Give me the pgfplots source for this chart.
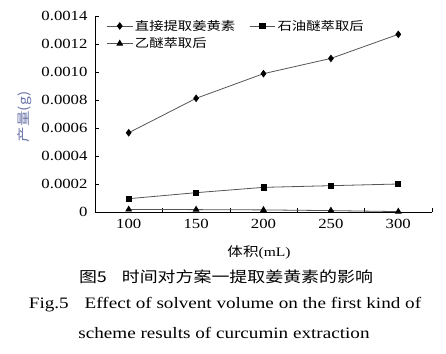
\documentclass[border=0pt]{standalone}
\usepackage{pgfplots}
\pgfplotsset{compat=1.18}
\usepackage{fontspec}
\setmainfont{Liberation Serif}[FakeStretch=1.2]
\newfontfamily\cjk{Noto Sans CJK SC}[FakeStretch=1.2]
\definecolor{linegray}{HTML}{555555}
\definecolor{ylab}{HTML}{6A74A8}
\begin{document}
\begin{tikzpicture}
\path[use as bounding box] (-95bp,-142bp) rectangle (351bp,212bp);
\begin{axis}[
  at={(0,0)}, anchor=south west,
  scale only axis, width=337bp, height=196bp,
  xmin=75, xmax=325, ymin=0, ymax=0.0014,
  scaled y ticks=false,
  axis x line*=bottom, axis y line*=left,
  axis line style={black, line width=0.6pt},
  xtick={75,125,175,225,275,325},
  xticklabels={},
  extra x ticks={100,150,200,250,300},
  extra x tick labels={100,150,200,250,300},
  extra x tick style={major tick length=0pt},
  ytick={0,0.0002,0.0004,0.0006,0.0008,0.0010,0.0012,0.0014},
  yticklabels={0,0.0002,0.0004,0.0006,0.0008,0.0010,0.0012,0.0014},
  major tick length=4bp,
  tick align=inside,
  tick style={black, line width=0.5pt},
  ticklabel style={font=\fontsize{14}{14}\selectfont},
  /pgf/number format/assume math mode=true,
  yticklabel style={xshift=-4bp},
  xticklabel style={yshift=-4bp},
  legend style={at={(0.025,1.0)}, anchor=north west, draw=none, fill=none,
    legend columns=2, font=\cjk\fontsize{12}{12}\selectfont,
    row sep=2bp,
    /tikz/every even column/.append style={column sep=12bp}},
  legend cell align=left,
  legend image code/.code={\draw[mark repeat=2,mark phase=2] plot coordinates {(0cm,0cm)(0.45cm,0cm)(0.9cm,0cm)};},
]
\addplot[linegray, line width=0.8pt, mark=diamond*, mark size=3.2pt, mark options={black, fill=black}]
  coordinates {(100,0.000566) (150,0.000812) (200,0.000988) (250,0.001097) (300,0.001269)};
\addlegendentry{直接提取姜黄素}
\addplot[linegray, line width=0.8pt, mark=square*, mark size=2.6pt, mark options={black, fill=black}]
  coordinates {(100,0.000095) (150,0.000138) (200,0.000176) (250,0.000188) (300,0.0002)};
\addlegendentry{石油醚萃取后}
\addplot[linegray, line width=0.8pt, mark=triangle*, mark size=3.2pt, mark options={black, fill=black}]
  coordinates {(100,0.000018) (150,0.000017) (200,0.000015) (250,0.00001) (300,0.000003)};
\addlegendentry{乙醚萃取后}
\end{axis}
\node[rotate=90, text=ylab, font=\cjk\fontsize{13}{13}\selectfont] at (-70bp,95bp) {产量(g)};
\node[font=\fontsize{13}{13}\selectfont] at (164bp,-40bp) {{\cjk 体积}(mL)};
\node[font=\cjk\fontsize{15}{15}\selectfont] at (131bp,-65bp) {图5\hspace{1em}时间对方案一提取姜黄素的影响};
\node[font=\fontsize{16}{16}\selectfont] at (130bp,-93bp) {Fig.5\hspace{1em}Effect of solvent volume on the first kind of};
\node[font=\fontsize{16}{16}\selectfont] at (129bp,-121bp) {scheme results of curcumin extraction};
\end{tikzpicture}
\end{document}
